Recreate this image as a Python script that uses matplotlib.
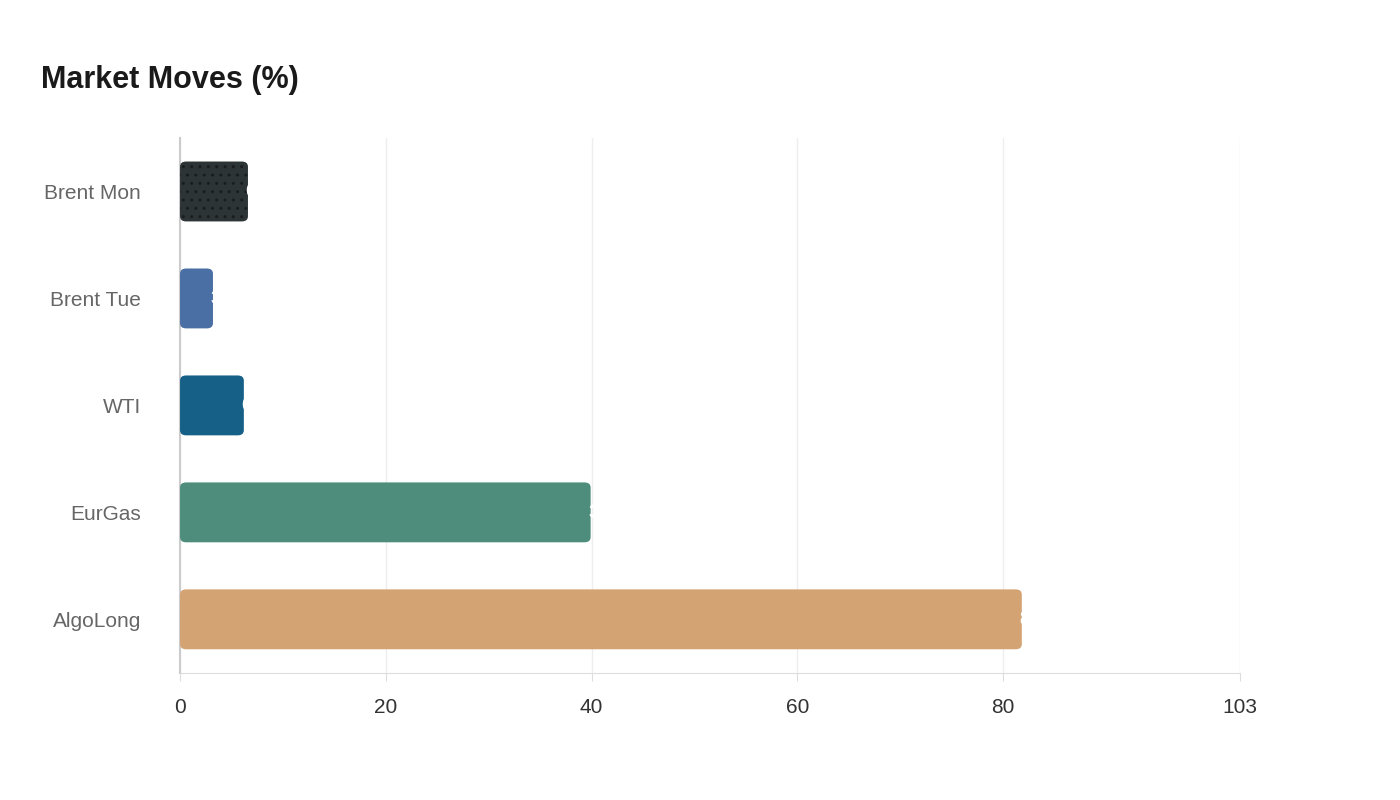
import matplotlib.pyplot as plt
from matplotlib.patches import FancyBboxPatch

categories = ["Brent Mon", "Brent Tue", "WTI", "EurGas", "AlgoLong"]
values = [6.6, 3.2, 6.2, 39.9, 81.8]
colors = ["#2d3436", "#4a6fa5", "#166088", "#4e8d7c", "#d4a373"]
ticks = [0, 20, 40, 60, 80, 103]

plt.rcParams['font.family'] = ['Liberation Sans', 'DejaVu Sans']

fig = plt.figure(figsize=(14, 8), dpi=100)
ax = fig.add_axes([0.1286, 0.159, 0.7571, 0.6685])

ys = list(range(len(categories)))[::-1]
bar_h = 0.56
for y, v, c, name in zip(ys, values, colors, categories):
    patch = FancyBboxPatch((0, y - bar_h / 2), v, bar_h,
                           boxstyle="round,pad=0,rounding_size=0.6",
                           mutation_aspect=0.08,
                           facecolor=c, edgecolor='none', zorder=3)
    if name == "Brent Mon":
        patch.set_hatch('..')
        patch.set_edgecolor('#1a1d1e')
        patch.set_linewidth(0)
    ax.add_patch(patch)
    ax.text(v - 0.25, y, f"{v:.1f}", color='white', fontsize=15,
            ha='left', va='center', zorder=4, fontweight='bold')

ax.set_xlim(0, 103)
ax.set_ylim(-0.5, len(categories) - 0.5)
ax.set_xticks(ticks)
ax.set_xticklabels([str(t) for t in ticks], fontsize=15, color='#333333')
ax.set_yticks(ys)
ax.set_yticklabels(categories, fontsize=15, color='#666666')
ax.tick_params(axis='y', length=0, pad=28)
ax.tick_params(axis='x', length=6, color='#dddddd', pad=12)
ax.grid(axis='x', color='#eeeeee', linewidth=1, zorder=0)
for s in ['top', 'right']:
    ax.spines[s].set_visible(False)
ax.spines['left'].set_color('#cccccc')
ax.spines['bottom'].set_color('#dddddd')
ax.spines['left'].set_linewidth(1.5)

fig.text(0.029, 0.9, "Market Moves (%)", fontsize=22, fontweight='bold',
         color='#1a1a1a', ha='left', va='center')

plt.rcParams['hatch.color'] = '#1a1d1e'
fig.savefig("out.png", dpi=100, facecolor='white')
